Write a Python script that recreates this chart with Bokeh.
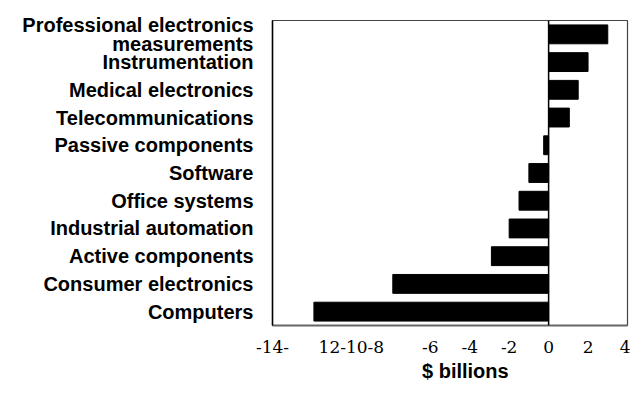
from bokeh.plotting import figure
from bokeh.layouts import column
from bokeh.models import FactorRange, Range1d, FixedTicker, Span, CDSView, IndexFilter
from bokeh.embed import file_html
from bokeh.resources import INLINE

categories = [
    "Professional electronics\nmeasurements",
    "Instrumentation",
    "Medical electronics",
    "Telecommunications",
    "Passive components",
    "Software",
    "Office systems",
    "Industrial automation",
    "Active components",
    "Consumer electronics",
    "Computers",
]
values = [3.0, 2.0, 1.5, 1.05, -0.25, -1.0, -1.5, -2.0, -2.9, -7.9, -11.9]

x_ticks = [-14, -12, -10, -8, -6, -4, -2, 0, 2, 4]
x_tick_labels = ["-14-", "", "12-10-8", "", "-6", "-4", "-2", "0", "2", "4"]
legend_label = "$ billions"

p = figure(
    y_range=FactorRange(*reversed(categories)),
    x_range=Range1d(-14, 4),
    width=630, height=355,
    min_border_left=272, min_border_right=3, min_border_top=20, min_border_bottom=28,
    output_backend="svg", toolbar_location=None,
)

bars = p.hbar(y=categories, right=values, left=0, height=0.68,
              fill_color="black", line_color="black")

p.add_layout(Span(location=0, dimension="height", line_color="black", line_width=1.5))

p.xgrid.visible = False
p.ygrid.visible = False
p.outline_line_color = "#444444"
p.outline_line_width = 1.2

p.xaxis.ticker = FixedTicker(ticks=x_ticks)
p.xaxis.major_label_overrides = {t: l for t, l in zip(x_ticks, x_tick_labels)}
p.xaxis.major_tick_line_color = None
p.xaxis.minor_tick_line_color = None
p.xaxis.axis_line_color = "#666666"
p.xaxis.axis_line_width = 2
p.xaxis.major_label_standoff = 9
p.xaxis.major_label_text_font = "DejaVu Serif"
p.xaxis.major_label_text_font_size = "17px"
p.xaxis.major_label_text_color = "black"

p.yaxis.major_tick_line_color = None
p.yaxis.minor_tick_line_color = None
p.yaxis.axis_line_color = "black"
p.yaxis.axis_line_width = 1.5
p.yaxis.major_label_standoff = 13
p.yaxis.major_label_text_font = "Liberation Sans"
p.yaxis.major_label_text_font_style = "bold"
p.yaxis.major_label_text_font_size = "20px"
p.yaxis.major_label_text_line_height = 0.85
p.yaxis.major_label_text_color = "black"

# legend strip below the chart (its frame aligns with the chart's frame);
# the series is filtered out here so only its legend swatch is drawn
p2 = figure(width=630, height=55, x_range=Range1d(50, 51),
            y_range=FactorRange(*reversed(categories)),
            x_axis_location=None, y_axis_location=None,
            min_border=0, output_backend="svg", toolbar_location=None)
p2.xgrid.visible = False
p2.ygrid.visible = False
p2.outline_line_color = None
p2.hbar(y=categories, right=values, left=0, height=0.68,
        fill_color="black", line_color=None, legend_label=legend_label,
        view=CDSView(filter=IndexFilter(indices=[])))
lg = p2.legend[0]
lg.location = (100, 27)
lg.orientation = "horizontal"
lg.border_line_color = None
lg.background_fill_alpha = 0
lg.margin = 0
lg.padding = 0
lg.glyph_width = 42
lg.glyph_height = 15
lg.label_text_font = "Liberation Sans"
lg.label_text_font_style = "bold"
lg.label_text_font_size = "20px"
lg.label_text_color = "black"
lg.label_standoff = 8

open("out.html", "w").write(file_html(column(p, p2), INLINE))
